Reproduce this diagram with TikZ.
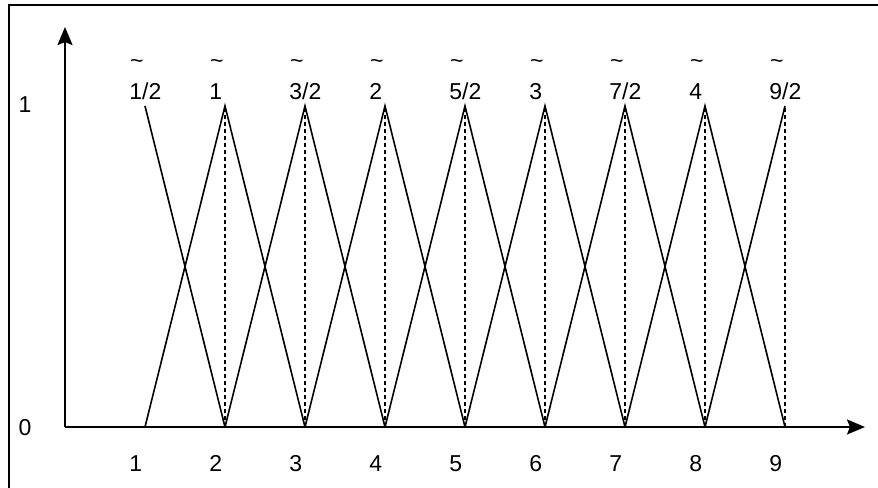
\documentclass[tikz,border=0pt]{standalone}
\usepackage{fontspec}
\setmainfont{Liberation Sans}
\usetikzlibrary{arrows.meta}

\begin{document}
\begin{tikzpicture}[x=40pt, y=160.5pt,
				>={Stealth[length=9pt,width=7.5pt,inset=1.5pt]},   % Pfeilspitzen
				font=\fontsize{11.5}{13}\selectfont,
				dreieck/.style={line width=0.8pt},
				senkrecht/.style={line width=0.8pt, dash pattern=on 2pt off 1.5pt},
				marke/.style={anchor=base west, inner sep=0pt}]
				% Bildbereich und Rahmen
				\useasboundingbox (-0.8125,-0.19) rectangle (10.1625,1.3302);
				\draw[line width=1.3pt] (-0.7,-0.5) -- (-0.7,1.3146) -- (10.5,1.3146);
				% Achsen zeichnen
				\draw[->,line width=1pt] (0,0) -- (10.0,0);
				\draw[->,line width=1pt] (0,0) -- (0,1.246);
				% Achsen beschriften
				\node[anchor=base, inner sep=0pt] (null) at (-0.5,-0.025) {0};
				\node[anchor=base, inner sep=0pt] (eins) at (-0.5,0.981) {1};
				\foreach \k in {1,...,9} \node[marke] (x\k) at (\k-0.2,-0.1402) {\k};
				% Dreiecke zeichnen
				\draw[dreieck] (1,1) -- (2,0);
				\foreach \k in {2,...,8} \draw[dreieck] (\k-1,0) -- (\k,1) -- (\k+1,0);
				\draw[dreieck] (8,0) -- (9,1);
				\foreach \k in {2,...,9} \draw[senkrecht] (\k,0) -- (\k,1);
				% Beschriftung der Spitzen
				\foreach \k/\lab in {1/{1/2},2/{1},3/{3/2},4/{2},5/{5/2},6/{3},7/{7/2},8/{4},9/{9/2}} {
					\node[anchor=west, inner sep=0pt] (w\k) at (\k-0.19,1.1324) {\textasciitilde};
					\node[marke] (l\k) at (\k-0.2,1.0187) {\lab};
				}
			\end{tikzpicture}
\end{document}
